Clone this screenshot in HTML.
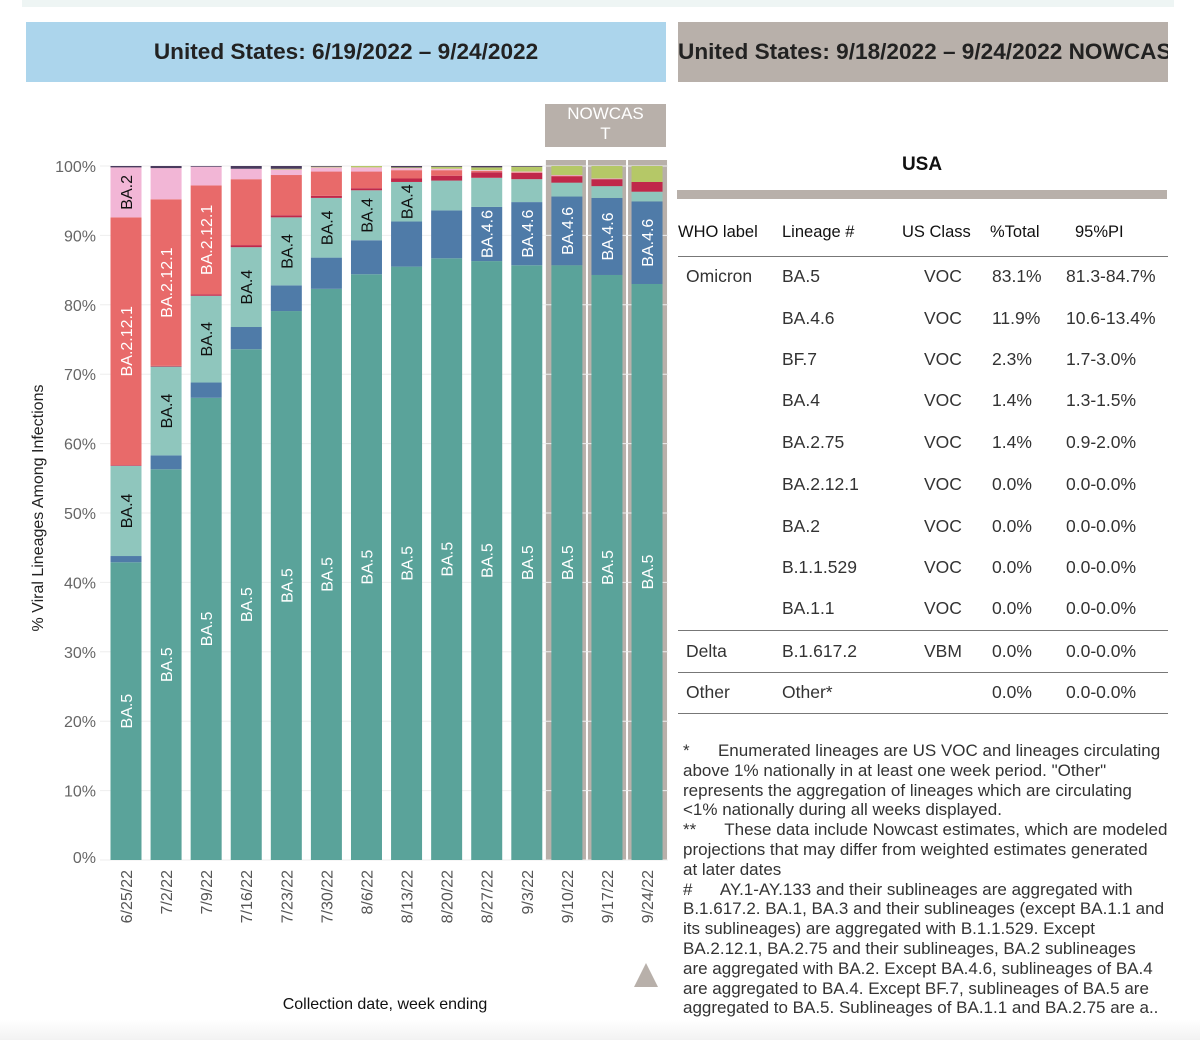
<!DOCTYPE html>
<html><head><meta charset="utf-8">
<style>
body{margin:0;background:#fff;font-family:"Liberation Sans",sans-serif;}
#root{position:relative;width:1200px;height:1040px;overflow:hidden;background:#fff;}
.abs{position:absolute;}
.tbl{position:absolute;font-size:17.5px;color:#333;white-space:nowrap;}
.hr{position:absolute;left:678px;width:490px;height:1px;background:#777;}
.note{position:absolute;left:683px;top:741px;font-size:17px;line-height:19.8px;color:#333;white-space:nowrap;}
</style></head>
<body>
<div id="root">
<div class="abs" style="left:22px;top:0;width:1152px;height:7px;background:#eef5f4"></div>
<div class="abs" style="left:26px;top:22px;width:640px;height:60px;background:#acd5ec;display:flex;align-items:center;justify-content:center;font-weight:bold;font-size:22.6px;color:#222">United States: 6/19/2022 – 9/24/2022</div>
<div class="abs" style="left:678px;top:22px;width:490px;height:60px;background:#b8b0aa;display:flex;align-items:center;font-weight:bold;font-size:22.6px;color:#222;overflow:hidden;white-space:nowrap">United States: 9/18/2022 – 9/24/2022 NOWCAST</div>

<svg id="chart" class="abs" style="left:0;top:0" width="680" height="1040"></svg>

<div class="abs" style="left:677px;top:154px;width:490px;text-align:center;font-weight:bold;font-size:19px;color:#111">USA</div>
<div class="abs" style="left:677px;top:190px;width:490px;height:9px;background:#b8b0aa"></div>

<div class="note">*&nbsp;&nbsp;&nbsp;&nbsp;&nbsp; Enumerated lineages are US VOC and lineages circulating<br>above 1% nationally in at least one week period. "Other"<br>represents the aggregation of lineages which are circulating<br>&lt;1% nationally during all weeks displayed.<br>**&nbsp;&nbsp;&nbsp;&nbsp;&nbsp; These data include Nowcast estimates, which are modeled<br>projections that may differ from weighted estimates generated<br>at later dates<br>#&nbsp;&nbsp;&nbsp;&nbsp;&nbsp; AY.1-AY.133 and their sublineages are aggregated with<br>B.1.617.2. BA.1, BA.3 and their sublineages (except BA.1.1 and<br>its sublineages) are aggregated with B.1.1.529. Except<br>BA.2.12.1, BA.2.75 and their sublineages, BA.2 sublineages<br>are aggregated with BA.2. Except BA.4.6, sublineages of BA.4<br>are aggregated to BA.4. Except BF.7, sublineages of BA.5 are<br>aggregated to BA.5. Sublineages of BA.1.1 and BA.2.75 are a..</div>
<div class="abs" style="left:0;top:1020px;width:1200px;height:20px;background:linear-gradient(#fff,#f2f2f2)"></div>
</div>
<script>
const categories=["6/25/22","7/2/22","7/9/22","7/16/22","7/23/22","7/30/22","8/6/22","8/13/22","8/20/22","8/27/22","9/3/22","9/10/22","9/17/22","9/24/22"];
const ba5=[42.9,56.3,66.6,73.6,79.1,82.3,84.4,85.5,86.7,86.3,85.7,85.7,84.3,83.0];
const ba46=[0.9,2.0,2.2,3.2,3.7,4.5,4.9,6.5,6.9,7.8,9.1,9.9,11.1,11.9];
const ba4=[13.0,12.8,12.5,11.5,9.8,8.6,7.2,5.7,4.3,4.2,3.3,2.0,1.7,1.4];
const ba275=[0.1,0.1,0.2,0.3,0.3,0.3,0.3,0.5,0.7,0.8,0.9,0.9,1.0,1.4];
const ba2121=[35.7,24.0,15.7,9.5,5.8,3.5,2.4,1.2,0.8,0.2,0.1,0.1,0.0,0.0];
const ba2=[7.2,4.5,2.7,1.5,0.8,0.6,0.6,0.3,0.2,0.1,0.1,0.1,0.1,0.0];
const bf7=[0.0,0.0,0.0,0.0,0.1,0.1,0.2,0.1,0.3,0.4,0.7,1.3,1.8,2.3];
const seriesNames=["BA.5","BA.4.6","BA.4","BA.2.75","BA.2.12.1","BA.2","BF.7"];
const seriesColors=["#5aa39a","#4f7ba8","#8fc6bd","#c0284a","#e86a6a","#f2b6d6","#b5c867"];
const seriesText=["#fff","#fff","#111","#fff","#fff","#111","#111"];
const nowcastFrom=11;
const yTicks=[0,10,20,30,40,50,60,70,80,90,100];

const NS="http://www.w3.org/2000/svg";
const svg=document.getElementById('chart');
const y0=860,y100=166;
const Y=v=>y0-(y0-y100)*v/100;
const X=i=>126+i*40.08;
const BW=31;
function mk(tag,attrs){const e=document.createElementNS(NS,tag);for(const k in attrs)e.setAttribute(k,attrs[k]);svg.appendChild(e);return e;}
const nb=mk('rect',{x:X(nowcastFrom)-21,y:160,width:X(categories.length-1)-X(nowcastFrom)+41,height:y0-160,fill:'#b8b0aa'});


for(let i=nowcastFrom+1;i<categories.length;i++){const s=mk('rect',{x:X(i)-21,y:160,width:2,height:y0-160,fill:'#fff'});

}
const nl=document.createElement('div');
nl.className='abs';nl.style.cssText='left:545px;top:104px;width:121px;height:43px;background:#b8b0aa;color:#fff;font-size:17px;text-align:center;line-height:20px;';
nl.innerHTML='NOWCAS<br>T';


document.getElementById('root').appendChild(nl);
yTicks.forEach(t=>{
 const g=mk('line',{x1:100,x2:668,y1:Y(t),y2:Y(t),stroke:'#eee','stroke-width':1});
 
 
 const tx=mk('text',{x:96,y:(t===0?Y(t)-3:Y(t))+6,'text-anchor':'end','font-size':16,fill:'#666'});
 tx.textContent=t+'%';
 
 
});
const yt=mk('text',{transform:'translate(43,508) rotate(-90)','text-anchor':'middle','font-size':16,fill:'#222'});
yt.textContent='% Viral Lineages Among Infections';


const series=[ba5,ba46,ba4,ba275,ba2121,ba2,bf7];
categories.forEach((c,i)=>{
 let acc=0;
 series.forEach((arr,s)=>{
  const v=arr[i];if(v<=0)return;
  const top=Y(acc+v),bot=Y(acc);
  const r=mk('rect',{x:X(i)-BW/2,y:top,width:BW,height:Math.max(bot-top,0.5),fill:seriesColors[s]});
  
  
  const h=bot-top,nm=seriesNames[s];
  if(h>=nm.length*8+6){
   const t=mk('text',{transform:`translate(${X(i)+6},${(top+bot)/2}) rotate(-90)`,'text-anchor':'middle','font-size':16,fill:seriesText[s]});
   t.textContent=nm;
   
   
  }
  acc+=v;
 });
 const rest=100-acc;
 if(rest>0){const r=mk('rect',{x:X(i)-BW/2,y:Y(100),width:BW,height:Y(acc)-Y(100),fill:'#4a3b5e'});
 
 }
 const xl=mk('text',{transform:`translate(${X(i)+6},870) rotate(-90)`,'text-anchor':'end','font-size':16,fill:'#555'});
 xl.textContent=c;
 
 
});
const xt=mk('text',{x:385,y:1009,'text-anchor':'middle','font-size':16,fill:'#111'});
xt.textContent='Collection date, week ending';


const tri=mk('polygon',{points:'634,987 658,987 646,963',fill:'#b8b0aa'});



const rows=[["Omicron","BA.5","VOC","83.1%","81.3-84.7%"],["","BA.4.6","VOC","11.9%","10.6-13.4%"],["","BF.7","VOC","2.3%","1.7-3.0%"],["","BA.4","VOC","1.4%","1.3-1.5%"],["","BA.2.75","VOC","1.4%","0.9-2.0%"],["","BA.2.12.1","VOC","0.0%","0.0-0.0%"],["","BA.2","VOC","0.0%","0.0-0.0%"],["","B.1.1.529","VOC","0.0%","0.0-0.0%"],["","BA.1.1","VOC","0.0%","0.0-0.0%"],["Delta","B.1.617.2","VBM","0.0%","0.0-0.0%"],["Other","Other*","","0.0%","0.0-0.0%"]];
const rowY=[277,319,360,401,443,485,527,568,609,652,693];
const tb=document.getElementById('root');
function cell(txt,x,y,name,size,col){const d=document.createElement('div');d.className='tbl';d.textContent=txt;d.style.top=(y-11)+'px';d.style.left=x+'px';if(size)d.style.fontSize=size+'px';if(col)d.style.color=col;


tb.appendChild(d);}
[["WHO label",678],["Lineage #",782],["US Class",902],["%Total",990],["95%PI",1075]].forEach(h=>cell(h[0],h[1],234,'column-header',16.5,'#111'));
rows.forEach((r,k)=>{const y=rowY[k];
 cell(r[0],686,y,'who-label');cell(r[1],782,y,'lineage-name');cell(r[2],924,y,'us-class');cell(r[3],992,y,'percent-total');cell(r[4],1066,y,'pi-range');});
[256,630,672,713].forEach(y=>{const d=document.createElement('div');d.className='hr';d.style.top=y+'px';


tb.appendChild(d);});
</script>
</body></html>
